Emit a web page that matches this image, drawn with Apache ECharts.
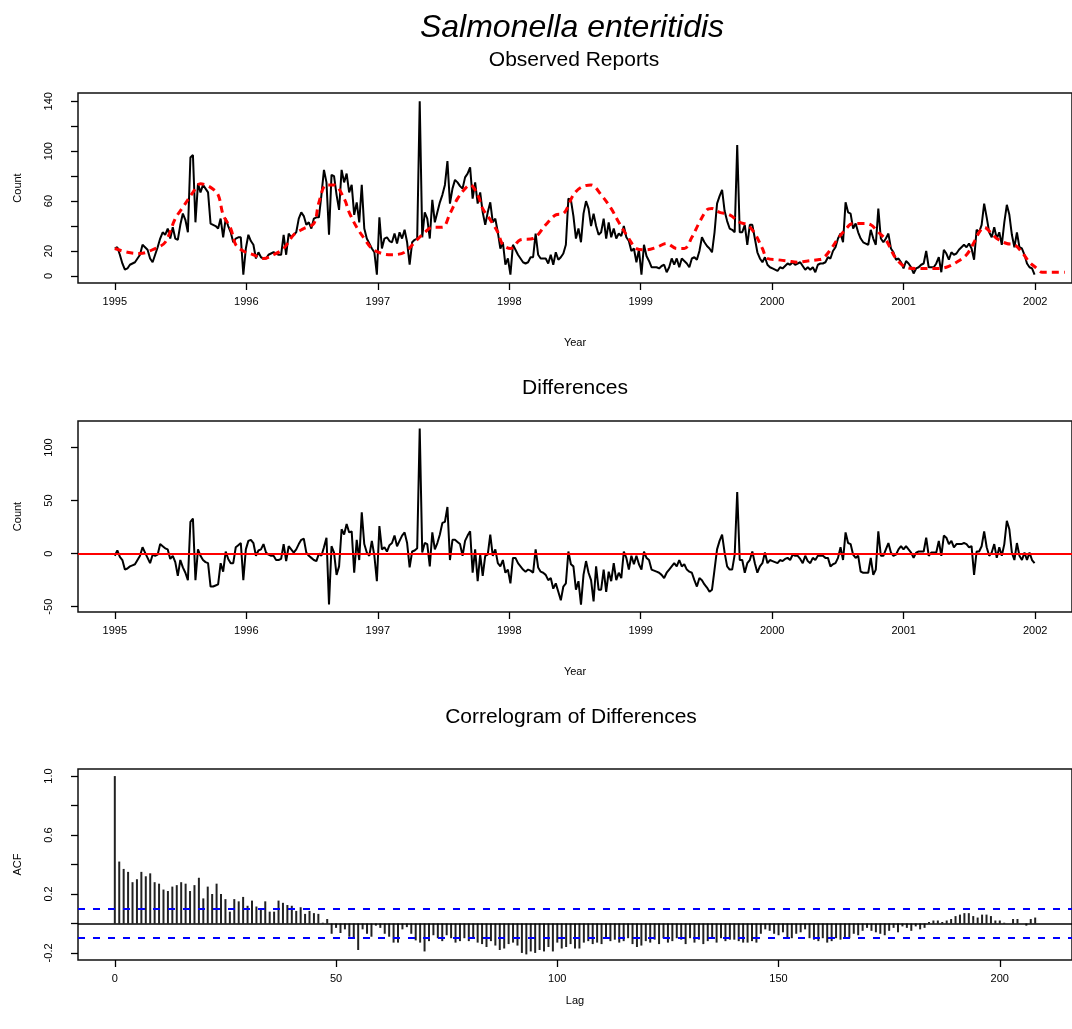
<!DOCTYPE html>
<html><head><meta charset="utf-8">
<script src="https://cdn.jsdelivr.net/npm/echarts@6/dist/echarts.min.js"></script>
<style>html,body{margin:0;padding:0;background:#fff}#c{width:1072px;height:1029px}</style>
</head><body><div id="c"></div>
<script>
// ---- data ----
const startYear = 1995;
const weekYears = 7 / 365.25;
const observed = [
22,23,17,10,5,6,9,10,11,14,
17,25,23,21,14,11,17,23,30,35,
33,38,30,39,30,29,41,50,45,35,
95,97,43,74,67,73,70,67,42,41,
40,38,46,31,46,40,35,27,30,31,
31,1,22,33,28,25,14,19,15,14,
14,17,18,19,18,17,17,33,17,34,
31,33,35,46,51,48,41,43,38,46,
47,47,65,85,75,33,81,80,65,53,
85,75,82,67,73,49,59,43,73,38,
30,26,22,19,1,47,22,30,31,28,
27,34,26,35,30,37,27,9,27,29,
30,140,31,51,46,30,61,43,51,59,
65,73,92,58,70,77,75,72,70,79,
82,87,62,75,58,67,51,41,51,59,
43,46,35,22,27,9,14,1,25,21,
17,14,11,10,11,15,15,34,17,14,
14,14,10,17,9,19,13,15,18,25,
62,61,48,30,38,27,50,60,54,40,
50,40,33,35,46,30,43,31,38,30,
34,32,40,31,28,20,22,11,21,1,
25,16,12,7,7,7,6,8,9,3,
7,14,9,14,7,14,12,10,7,14,
15,13,20,31,27,24,22,19,35,58,
64,69,52,44,38,37,35,105,35,35,
41,25,41,41,30,19,14,11,15,9,
7,6,5,4,7,6,8,10,9,11,
9,10,11,8,5,7,5,7,3,9,
10,10,11,15,14,20,23,30,34,27,
59,51,50,38,42,35,30,27,26,25,
37,30,25,54,30,27,30,34,22,19,
13,14,11,6,12,10,7,2,6,7,
9,10,20,7,7,7,10,15,3,21,
18,13,19,17,18,21,23,25,23,26,
22,13,37,35,41,58,47,35,31,39,
30,35,25,43,57,49,33,23,35,23,
22,17,10,7,6,1];
const fitWeeks = [0,5,10,16,20,24,27,31,34,38,41,43,46,48,51,55,59,63,67,71,75,79,81,84,87,91,93,96,99,102,106,110,115,119,123,126,130,133,136,139,141,144,146,149,152,154,157,161,166,171,175,178,182,185,189,193,197,200,204,207,211,215,219,223,226,229,232,235,237,240,244,248,251,254,257,259,263,267,271,275,279,281,284,287,289,293,297,300,303,306,310,314,318,322,326,330,334,338,341,343,345,348,350,354,357,360,363,366,368,372,377];
const fitValues = [22,19,18,22,27,46,55,67,74,71,65,49,38,25,20,17,14,17,22,33,38,42,59,73,73,62,51,39,30,22,18,17,19,27,35,39,39,50,62,70,73,65,54,45,35,25,22,29,30,41,49,50,65,71,73,65,54,43,30,22,21,23,26,22,22,31,43,53,54,51,49,43,41,34,22,14,13,12,11,12,13,14,21,30,35,42,42,41,35,29,14,7,6,6,6,7,11,17,27,35,39,34,30,26,25,19,11,6,3,3,3];
const differences = [
-2,3,-3,-6,-15,-14,-12,-11,-10,-6,
-2,6,1,-4,-9,-1,-2,-1,9,7,
5,4,-5,-2,-8,-21,-6,-13,-18,-25,
30,33,-25,4,-2,-6,-8,-9,-31,-31,
-30,-29,-9,-17,2,-5,-9,-9,6,8,
10,-25,4,12,13,10,-2,3,4,9,
1,-1,-2,-2,-6,-6,-5,9,-7,7,
4,1,4,9,13,14,1,-2,-4,-6,
-7,0,-2,6,15,-48,7,1,-20,-12,
23,18,28,20,21,-18,13,-6,39,9,
1,-2,12,-2,-26,26,4,6,2,8,
10,17,7,12,17,20,10,-13,2,3,
5,118,1,10,9,-12,20,4,10,18,
29,30,44,-6,13,13,11,9,-2,12,
17,21,-18,4,-26,-1,-21,-2,-1,18,
-2,4,-9,-12,-6,-18,-15,-28,-4,-4,
-9,-12,-15,-17,-15,-16,-18,4,-13,-17,
-18,-20,-25,-23,-33,-28,-36,-44,-31,-28,
2,-10,-12,-34,-26,-48,-20,-7,-18,-25,
-45,-12,-34,-34,-15,-36,-17,-26,-9,-25,
-18,-23,2,-4,-15,-2,-10,-2,-10,-15,
2,-4,-6,-15,-16,-17,-18,-20,-23,-18,
-15,-12,-9,-12,-6,-12,-10,-15,-17,-18,
-25,-31,-23,-25,-29,-32,-36,-34,-15,4,
12,18,1,-12,-15,-15,-1,58,-6,-6,
-18,-9,-6,2,-9,-18,-12,-9,1,-9,
-6,-7,-8,-9,-6,-7,-5,-4,-6,-1,
-2,-2,-5,-9,-2,-7,-9,-4,-6,-2,
-2,-2,-4,-4,-12,-10,-9,-4,6,-6,
20,10,9,-1,-4,-2,-17,-18,-18,-18,
-4,-20,-15,21,-2,-2,4,10,1,-2,
-1,4,7,4,7,4,1,-4,1,2,
2,2,15,-2,1,1,1,12,-2,17,
15,9,12,6,9,9,9,10,9,6,
7,-20,2,2,7,21,6,-2,1,9,
-4,6,-2,9,31,23,1,-6,10,-2,
-6,1,-6,1,-6,-9];
const acf = [
1.0,
0.42,0.37,0.35,0.28,0.30,0.35,0.32,0.34,0.28,0.27,
0.23,0.22,0.25,0.26,0.28,0.27,0.22,0.26,0.31,0.17,
0.25,0.20,0.27,0.20,0.165,0.08,0.165,0.15,0.18,0.12,
0.155,0.115,0.105,0.15,0.08,0.08,0.155,0.14,0.125,0.12,
0.085,0.11,0.065,0.085,0.07,0.065,0.005,0.03,-0.07,-0.03,
-0.065,-0.04,-0.09,-0.105,-0.18,-0.04,-0.07,-0.09,-0.015,-0.03,
-0.07,-0.09,-0.13,-0.13,-0.04,-0.025,-0.07,-0.115,-0.13,-0.19,
-0.12,-0.08,-0.1,-0.12,-0.08,-0.1,-0.13,-0.12,-0.1,-0.12,
-0.1,-0.13,-0.14,-0.16,-0.12,-0.15,-0.18,-0.17,-0.14,-0.13,
-0.15,-0.2,-0.21,-0.19,-0.2,-0.18,-0.19,-0.16,-0.19,-0.13,
-0.17,-0.16,-0.14,-0.17,-0.17,-0.13,-0.12,-0.14,-0.13,-0.14,
-0.1,-0.12,-0.11,-0.13,-0.12,-0.1,-0.14,-0.16,-0.15,-0.12,
-0.13,-0.11,-0.14,-0.1,-0.13,-0.12,-0.1,-0.11,-0.14,-0.1,
-0.13,-0.11,-0.14,-0.12,-0.1,-0.13,-0.1,-0.12,-0.11,-0.11,
-0.12,-0.13,-0.13,-0.12,-0.13,-0.07,-0.04,-0.05,-0.07,-0.08,
-0.06,-0.1,-0.1,-0.07,-0.06,-0.04,-0.1,-0.11,-0.12,-0.1,
-0.13,-0.12,-0.1,-0.11,-0.1,-0.1,-0.07,-0.08,-0.05,-0.03,
-0.05,-0.06,-0.07,-0.08,-0.05,-0.03,-0.06,-0.02,-0.03,-0.05,
-0.02,-0.04,-0.03,0.01,0.02,0.02,0.01,0.02,0.03,0.05,
0.06,0.07,0.07,0.05,0.04,0.06,0.06,0.05,0.02,0.02,
0.005,0,0.03,0.03,0,-0.015,0.03,0.04];
const ciBound = 0.1026;
const yearTicks = [1995,1996,1997,1998,1999,2000,2001,2002];
const countTicks = [0,20,40,60,80,100,120,140];
const countLabels = [0,20,60,100,140];
const diffTicks = [-50,0,50,100];
const acfTicks = [-0.2,0,0.2,0.4,0.6,0.8,1.0];
const acfLabels = [-0.2,0.2,0.6,1.0];
const lagTicks = [0,50,100,150,200];

// ---- chart ----
const FONT = '"Liberation Sans", Arial, Helvetica, sans-serif';
const obsData = observed.map((v, i) => [startYear + i * weekYears, v]);
const fitData = fitWeeks.map((w, k) => [startYear + w * weekYears, fitValues[k]]);
const diffData = differences.map((v, i) => [startYear + i * weekYears, v]);
const acfData = acf.map((v, k) => [k, v]);

const tickStyle = {length: 7, lineStyle: {color: '#000', width: 1.3}};
const lblStyle = {fontSize: 11, color: '#000', fontFamily: FONT};
const nameStyle = {fontSize: 11, color: '#000', fontFamily: FONT};

function xYear(gi) {
  return {type: 'value', gridIndex: gi, min: 1994.72, max: 2002.28, position: 'bottom',
    axisLine: {show: false, onZero: false}, splitLine: {show: false},
    axisTick: Object.assign({show: true, customValues: yearTicks}, tickStyle),
    axisLabel: Object.assign({customValues: yearTicks, margin: 13, formatter: v => String(v)}, lblStyle),
    name: 'Year', nameLocation: 'middle', nameGap: 54, nameTextStyle: nameStyle};
}
function yAx(gi, min, max, ticks, labels, name, fmt) {
  return {type: 'value', gridIndex: gi, min: min, max: max, position: 'left',
    axisLine: {show: false, onZero: false}, splitLine: {show: false},
    axisTick: Object.assign({show: true, customValues: ticks}, tickStyle),
    axisLabel: Object.assign({customValues: labels, rotate: 90, margin: 24, formatter: fmt}, lblStyle),
    name: name, nameLocation: 'middle', nameGap: 55, nameRotate: 90, nameTextStyle: nameStyle};
}
const gridBase = {show: true, borderColor: '#111', borderWidth: 1.5, backgroundColor: 'transparent', containLabel: false};
const titleFont = '"Liberation Sans", Arial, sans-serif';

const chart = echarts.init(document.getElementById('c'));
chart.setOption({
  animation: false,
  backgroundColor: '#fff',
  grid: [
    Object.assign({left: 78, top: 93, right: -7, height: 190}, gridBase),
    Object.assign({left: 78, top: 421, right: -7, height: 191}, gridBase),
    Object.assign({left: 78, top: 769, right: -5, height: 191}, gridBase)
  ],
  xAxis: [
    xYear(0), xYear(1),
    {type: 'value', gridIndex: 2, min: -8.32, max: 216.32, position: 'bottom',
      axisLine: {show: false, onZero: false}, splitLine: {show: false},
      axisTick: Object.assign({show: true, customValues: lagTicks}, tickStyle),
      axisLabel: Object.assign({customValues: lagTicks, margin: 13, formatter: v => String(v)}, lblStyle),
      name: 'Lag', nameLocation: 'middle', nameGap: 35, nameTextStyle: nameStyle}
  ],
  yAxis: [
    yAx(0, -5.64, 146.64, countTicks, countLabels, 'Count', v => String(v)),
    yAx(1, -55, 125, diffTicks, diffTicks, 'Count', v => String(v)),
    yAx(2, -0.248, 1.048, acfTicks, acfLabels, 'ACF', v => v.toFixed(1))
  ],
  graphic: [
    {type: 'text', x: 572, y: 28, style: {text: 'Salmonella enteritidis', font: 'italic 32px ' + titleFont, fill: '#000', align: 'center', verticalAlign: 'middle'}},
    {type: 'text', x: 574, y: 60, style: {text: 'Observed Reports', font: '21px ' + titleFont, fill: '#000', align: 'center', verticalAlign: 'middle'}},
    {type: 'text', x: 575, y: 388, style: {text: 'Differences', font: '21px ' + titleFont, fill: '#000', align: 'center', verticalAlign: 'middle'}},
    {type: 'text', x: 571, y: 717, style: {text: 'Correlogram of Differences', font: '21px ' + titleFont, fill: '#000', align: 'center', verticalAlign: 'middle'}}
  ],
  series: [
    {type: 'line', xAxisIndex: 0, yAxisIndex: 0, data: obsData, showSymbol: false, symbol: 'none',
      lineStyle: {color: '#000', width: 2}, z: 2},
    {type: 'line', xAxisIndex: 0, yAxisIndex: 0, data: fitData, showSymbol: false, symbol: 'none', smooth: 0.35,
      lineStyle: {color: '#ff0000', width: 3, type: [7, 5]}, z: 3},
    {type: 'line', xAxisIndex: 1, yAxisIndex: 1, data: diffData, showSymbol: false, symbol: 'none',
      lineStyle: {color: '#000', width: 2}, z: 2,
      markLine: {silent: true, symbol: 'none', label: {show: false}, z: 3,
        lineStyle: {color: '#ff0000', width: 2, type: 'solid'}, data: [{yAxis: 0}]}},
    {type: 'bar', xAxisIndex: 2, yAxisIndex: 2, data: acfData, barWidth: 2,
      itemStyle: {color: '#222'}, z: 2,
      markLine: {silent: true, symbol: 'none', label: {show: false}, z: 3,
        data: [
          {yAxis: 0, lineStyle: {color: '#000', width: 1.5, type: 'solid'}},
          {yAxis: ciBound, lineStyle: {color: '#0000ff', width: 2, type: [7, 8]}},
          {yAxis: -ciBound, lineStyle: {color: '#0000ff', width: 2, type: [7, 8]}}
        ]}}
  ]
});
</script>
</body></html>
